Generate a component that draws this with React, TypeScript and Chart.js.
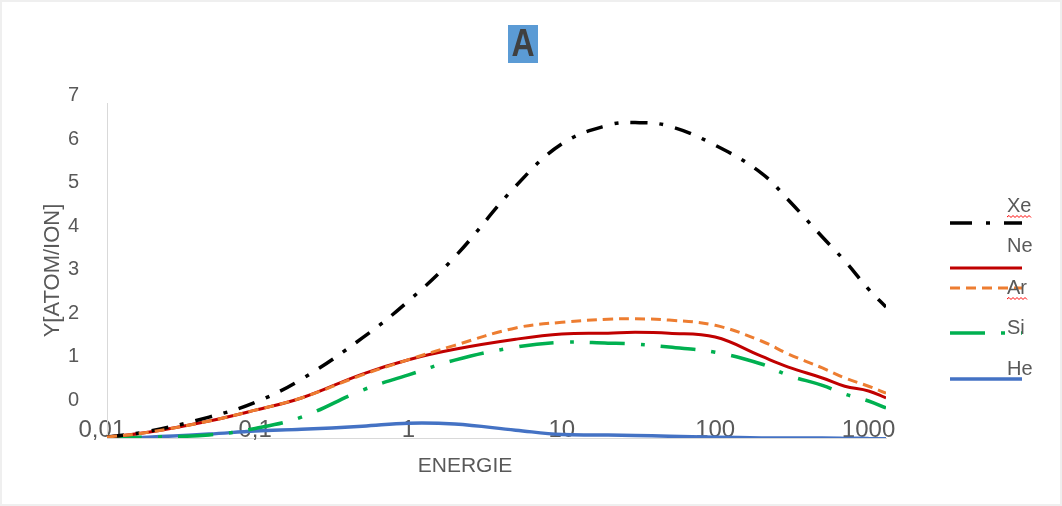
import React, { useEffect, useRef } from "react";
import { Chart, registerables } from "chart.js";

Chart.register(...registerables);

// ---- data ----
const energy = [0.0108, 0.02, 0.05, 0.1, 0.2, 0.5, 1, 2, 5, 10, 20, 30, 50, 100, 200, 300, 500, 700, 1000, 1300];
const xTickValues = [0.01, 0.1, 1, 10, 100, 1000];
const xTickLabels = ["0,01", "0,1", "1", "10", "100", "1000"];
const yTickValues = [0, 1, 2, 3, 4, 5, 6, 7];
const seriesNames = ["Xe", "Ne", "Ar", "Si", "He"];
const xe = [-0.85, -0.72, -0.39, -0.05, 0.48, 1.43, 2.28, 3.29, 4.92, 5.89, 6.32, 6.38, 6.3, 5.86, 5.22, 4.6, 3.75, 3.2, 2.55, 2.14];
const ne = [-0.85, -0.74, -0.48, -0.23, 0.05, 0.6, 0.93, 1.17, 1.4, 1.52, 1.54, 1.56, 1.54, 1.45, 1.01, 0.76, 0.51, 0.32, 0.21, 0.05];
const ar = [-0.85, -0.74, -0.48, -0.23, 0.05, 0.58, 0.93, 1.26, 1.66, 1.79, 1.86, 1.87, 1.84, 1.72, 1.36, 1.06, 0.74, 0.51, 0.32, 0.16];
const si = [-0.87, -0.85, -0.8, -0.65, -0.39, 0.23, 0.58, 0.92, 1.22, 1.33, 1.31, 1.29, 1.22, 1.1, 0.83, 0.57, 0.34, 0.14, -0.02, -0.18];
const he = [-0.87, -0.85, -0.78, -0.71, -0.67, -0.6, -0.53, -0.55, -0.69, -0.79, -0.8, -0.81, -0.83, -0.85, -0.87, -0.87, -0.87, -0.88, -0.88, -0.89];
const seriesValues = [xe, ne, ar, si, he];

const FONT = "'Liberation Sans', Arial, sans-serif";
const TEXT = "#595959";

const styles = [
  { color: "#000000", width: 3.5, dash: [17, 12, 4, 12], legendDash: [22, 14, 4, 14], order: 0 },
  { color: "#C00000", width: 3, dash: [], legendDash: [], order: 1 },
  { color: "#ED7D31", width: 3, dash: [10, 6], legendDash: [10, 6], order: -1 },
  { color: "#00B050", width: 3.5, dash: [35, 16, 4, 16], legendDash: [35, 16, 4, 16], order: 1 },
  { color: "#4472C4", width: 3.5, dash: [], legendDash: [], order: 2 },
];

function wavy(ctx: CanvasRenderingContext2D, x0: number, x1: number, y: number) {
  ctx.save();
  ctx.strokeStyle = "#ff0000";
  ctx.lineWidth = 1;
  ctx.setLineDash([]);
  ctx.beginPath();
  let up = true;
  ctx.moveTo(x0, y);
  for (let x = x0 + 2; x <= x1; x += 2) {
    ctx.lineTo(x, up ? y - 1.5 : y + 0.5);
    up = !up;
  }
  ctx.stroke();
  ctx.restore();
}

const decor = {
  id: "decor",
  afterDraw(chart: any) {
    const ctx: CanvasRenderingContext2D = chart.ctx;
    ctx.save();
    // title "A" with blue box
    ctx.fillStyle = "#5B9BD5";
    ctx.fillRect(500, 17, 30, 38);
    ctx.save();
    ctx.translate(515, 37);
    ctx.scale(0.82, 1);
    ctx.fillStyle = "#404040";
    ctx.font = `bold 39px ${FONT}`;
    ctx.textAlign = "center";
    ctx.textBaseline = "middle";
    ctx.fillText("A", 0, 0);
    ctx.restore();

    // x axis title
    ctx.fillStyle = TEXT;
    ctx.font = `21px ${FONT}`;
    ctx.textAlign = "center";
    ctx.textBaseline = "middle";
    ctx.fillText("ENERGIE", 457, 458);

    // legend
    const textYs = [198, 238, 280, 320, 361];
    const lineYs = [215, 260, 280, 325, 371];
    const lx0 = 942;
    const lx1 = 1014;
    chart.data.datasets.forEach((ds: any, i: number) => {
      const st = styles[i];
      ctx.save();
      ctx.strokeStyle = ds.borderColor;
      ctx.lineWidth = ds.borderWidth;
      ctx.lineCap = "butt";
      ctx.setLineDash(st.legendDash);
      ctx.beginPath();
      ctx.moveTo(lx0, lineYs[i]);
      ctx.lineTo(lx1, lineYs[i]);
      ctx.stroke();
      ctx.restore();
      ctx.fillStyle = TEXT;
      ctx.font = `20px ${FONT}`;
      ctx.textAlign = "left";
      ctx.textBaseline = "middle";
      ctx.fillText(ds.label, 999, textYs[i]);
      if (ds.label === "Xe" || ds.label === "Ar") {
        const w = ctx.measureText(ds.label).width;
        wavy(ctx, 999, 999 + w, textYs[i] + 11);
      }
    });
    ctx.restore();
  },
};

export default function App() {
  const ref = useRef<HTMLCanvasElement | null>(null);
  useEffect(() => {
    if (!ref.current) return;
    const datasets = seriesNames.map((name, i) => ({
      label: name,
      data: energy.map((x, j) => ({ x, y: seriesValues[i][j] })),
      borderColor: styles[i].color,
      backgroundColor: styles[i].color,
      borderWidth: styles[i].width,
      borderDash: styles[i].dash,
      borderCapStyle: "butt" as const,
      pointRadius: 0,
      fill: false,
      tension: 0.4,
      order: styles[i].order,
    }));
    const chart = new Chart(ref.current, {
      type: "line",
      data: { datasets },
      options: {
        animation: false,
        responsive: true,
        maintainAspectRatio: false,
        layout: { padding: { top: 95, right: 168, bottom: 0, left: 0 } },
        plugins: {
          legend: { display: false },
          title: { display: false },
          tooltip: { enabled: false },
        },
        scales: {
          x: {
            type: "logarithmic",
            min: 0.0108,
            max: 1300,
            bounds: "data",
            grid: { display: false, drawTicks: false },
            border: { display: true, color: "#d9d9d9", width: 1 },
            afterBuildTicks: (s: any) => {
              s.ticks = xTickValues.map((v) => ({ value: v }));
              // let the labels sit on the axis line without being clipped
              s._computeLabelArea = () => null;
            },
            afterFit: (s: any) => {
              s.height = 60;
            },
            ticks: {
              autoSkip: false,
              maxRotation: 0,
              minRotation: 0,
              padding: -22,
              color: TEXT,
              font: { family: FONT, size: 24 },
              callback: (v: any) => {
                const i = xTickValues.indexOf(Number(v));
                return i >= 0 ? xTickLabels[i] : "";
              },
            },
          },
          y: {
            type: "linear",
            min: -0.87,
            max: 6.83,
            bounds: "data",
            grid: { display: false, drawTicks: false },
            border: { display: true, color: "#d9d9d9", width: 1 },
            afterBuildTicks: (s: any) => {
              s.ticks = yTickValues.map((v) => ({ value: v }));
            },
            afterFit: (s: any) => {
              s.width = 99;
            },
            ticks: {
              autoSkip: false,
              padding: 28,
              color: TEXT,
              font: { family: FONT, size: 20 },
              callback: (v: any) => String(v),
            },
            title: {
              display: true,
              text: "Y[ATOM/ION]",
              color: TEXT,
              font: { family: FONT, size: 22 },
              padding: { top: 32, bottom: 0 },
            },
          },
        },
      },
      plugins: [decor],
    });
    return () => chart.destroy();
  }, []);
  return (
    <div style={{ position: "relative", width: "100%", height: 490 }}>
      <div
        style={{
          position: "fixed",
          left: 0,
          top: 0,
          right: 0,
          bottom: 0,
          border: "2px solid #efefef",
          boxSizing: "border-box",
          pointerEvents: "none",
        }}
      />
      <canvas ref={ref} />
    </div>
  );
}
